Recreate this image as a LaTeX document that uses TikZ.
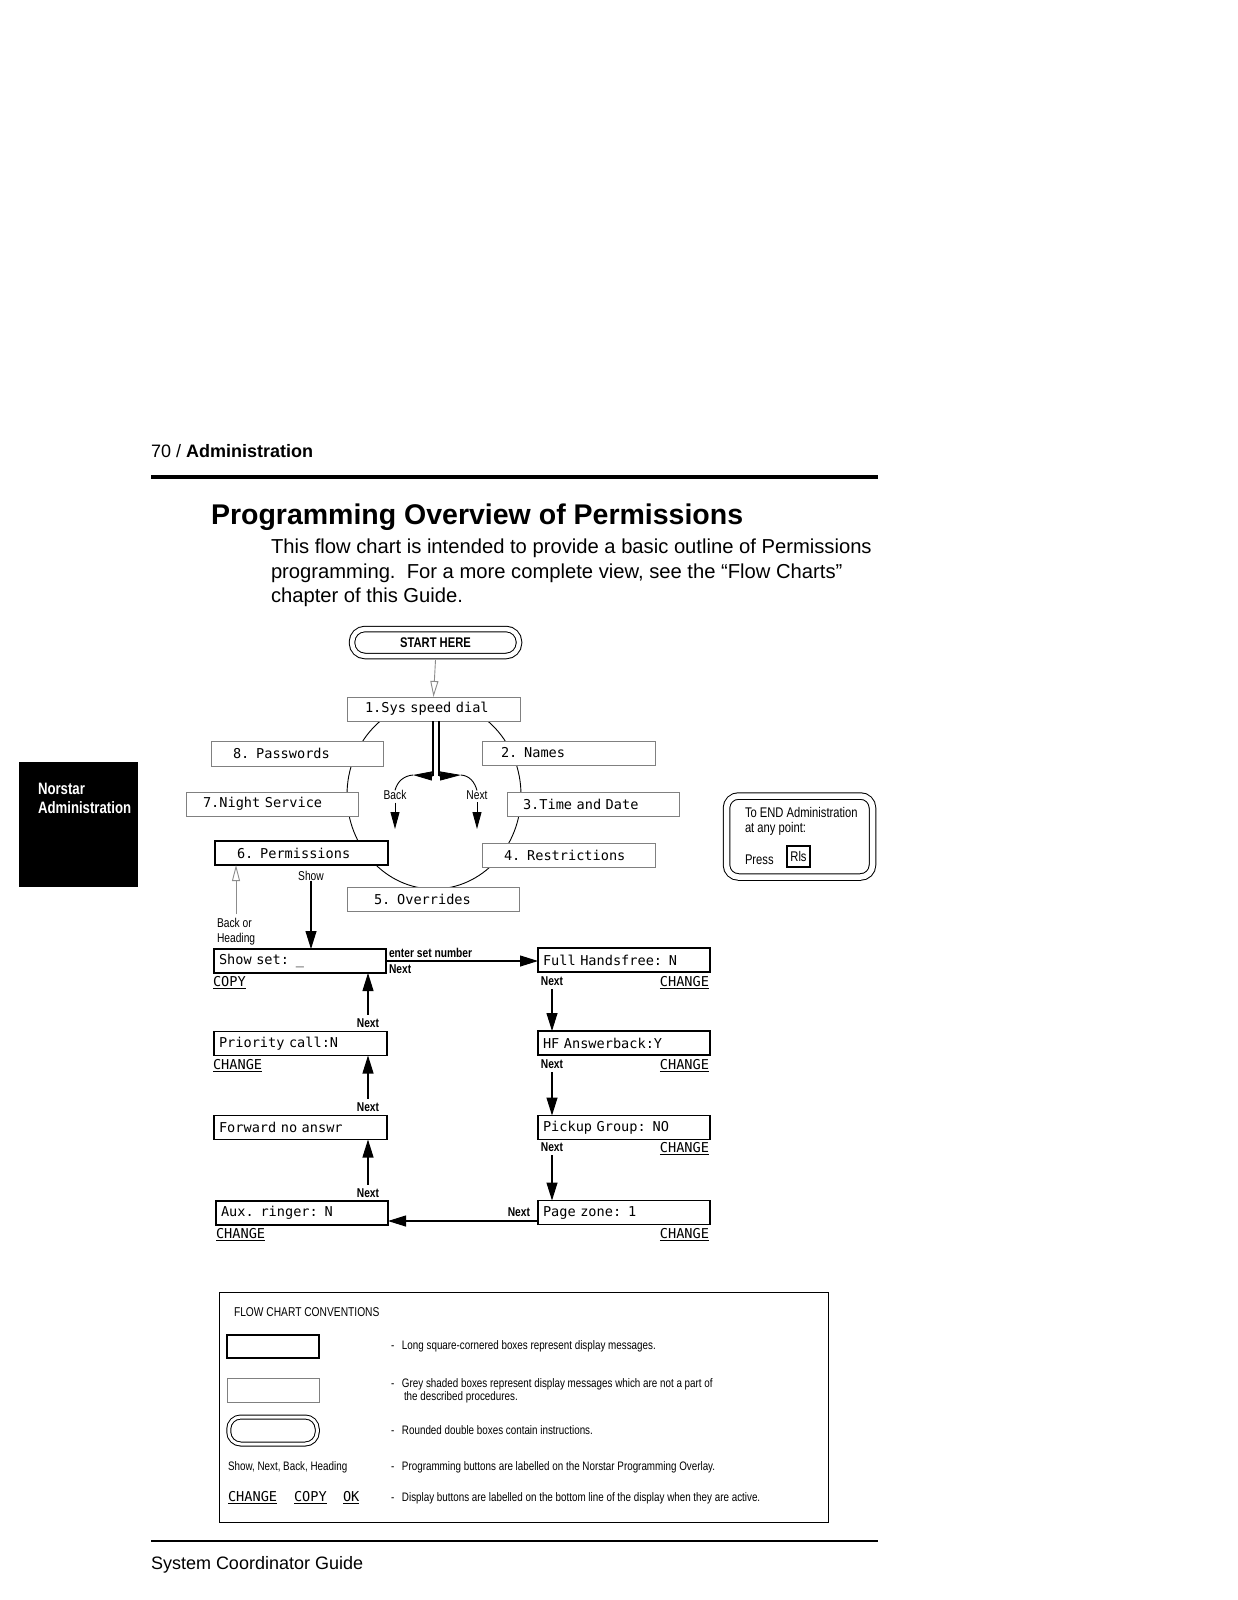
\documentclass[tikz,border=0pt]{standalone}
\usepackage{fontspec}
\setmainfont{Liberation Sans}
\newfontfamily\narrow[FakeStretch=0.8]{Liberation Sans}
\newfontfamily\lcd{DejaVu Sans Mono}
\usetikzlibrary{arrows.meta}
\begin{document}
\begin{tikzpicture}[x=1pt,y=-1pt,
  every node/.style={inner sep=0pt, outer sep=0pt},
  lcdf/.style={font=\fontsize{13.6}{15}\selectfont\lcd},
  disp/.style={draw, line width=1.1pt, fill=white, minimum width=172, minimum height=24, text width=164, align=left, inner xsep=4pt, lcdf},
  greybox/.style={disp, draw=black!50, line width=0.9pt},
  nxt/.style={font=\fontsize{12.8}{14}\selectfont\narrow\bfseries},
  lab/.style={font=\fontsize{12.8}{15}\selectfont\narrow},
  small/.style={font=\fontsize{12.3}{13}\selectfont\narrow},
  arr/.style={line width=1.1pt, -{Triangle[length=18pt,width=11pt]}},
  garr/.style={draw=black!45, line width=0.9pt, -{Triangle[open,length=16pt,width=8pt]}},
  dbl/.style={draw, double, double distance=4.5pt, line width=1pt, rounded corners=12pt},
]
\useasboundingbox (0,0) rectangle (1237,1600);
\fill[white] (0,0) rectangle (1237,1600);

% header
\node[anchor=base west, font=\fontsize{18}{20}\selectfont] (hdr) at (151,457.5) {70 / \textbf{Administration}};
\draw[line width=3.5pt] (151,477) -- (878,477);
\node[anchor=base west, font=\fontsize{28.5}{32}\selectfont\bfseries] (title) at (211,524) {Programming Overview of Permissions};
\node[anchor=base west, font=\fontsize{20.2}{24}\selectfont] (p1) at (271,553) {This flow chart is intended to provide a basic outline of Permissions};
\node[anchor=base west, font=\fontsize{20.2}{24}\selectfont] (p2) at (271,578) {programming.\ \ For a more complete view, see the “Flow Charts”};
\node[anchor=base west, font=\fontsize{20.2}{24}\selectfont] (p3) at (271,602) {chapter of this Guide.};

% side tab
\fill[black] (19,762) rectangle (138,887);
\node[anchor=base west, text=white, font=\fontsize{16.5}{18}\selectfont\narrow\bfseries] (tab1) at (38,794) {Norstar};
\node[anchor=base west, text=white, font=\fontsize{16.5}{18}\selectfont\narrow\bfseries] (tab2) at (38,813) {Administration};

% start
\node[dbl, rounded corners=13pt, minimum width=167, minimum height=27, font=\fontsize{14}{16}\selectfont\narrow\bfseries] (start) at (435.5,642.5) {START HERE};

% ring
\draw[line width=0.9pt] (434,795) ellipse [x radius=87, y radius=94];
\node[greybox, minimum width=173, text width=165] (b1) at (433.5,709) {\hspace*{14pt}1.Sys speed dial};
\node[greybox, minimum height=25] (b8) at (297,753.5) {\hspace*{18pt}8. Passwords};
\node[greybox, minimum width=173, text width=165] (b2) at (568.5,753) {\hspace*{15pt}2. Names};
\node[greybox] (b7) at (272,804) {\hspace*{13pt}7.Night Service};
\node[greybox] (b3) at (593,804) {\hspace*{12pt}3.Time and Date};
\node[disp, minimum width=173, text width=165, line width=1.5pt] (b6) at (301.5,853) {\hspace*{18pt}6. Permissions};
\node[greybox, minimum width=173, text width=165] (b4) at (568.5,855) {\hspace*{18pt}4. Restrictions};
\node[greybox] (b5) at (433,899) {\hspace*{23pt}5. Overrides};

\draw[garr] ([yshift=-4pt]start.south) -- (b1.north);

% stems and Back / Next
\coordinate (stemL) at (433,776);
\coordinate (stemR) at (439,776);
\coordinate (bk) at (413,775);
\coordinate (nx) at (461,775);
\draw[line width=1.1pt] (b1.south -| stemL) -- (stemL);
\draw[line width=1.1pt] (b1.south -| stemR) -- (stemR);
\draw[line width=0.8pt, -{Triangle[length=19pt,width=9pt]}] (stemL) -- (bk);
\draw[line width=0.8pt, -{Triangle[length=21pt,width=9pt]}] (stemR) -- (nx);
\node[lab] (back) at (395,795) {Back};
\node[lab] (next) at (477,795) {Next};
\draw[line width=0.9pt] (bk) to[out=185,in=75] (back.north);
\draw[line width=0.9pt] (nx) to[out=-5,in=105] (next.north);
\coordinate (bkend) at (395,829);
\coordinate (nxend) at (477,829);
\draw[line width=0.9pt, -{Triangle[length=17pt,width=9pt]}] ([yshift=-3pt]back.south) -- (bkend);
\draw[line width=0.9pt, -{Triangle[length=17pt,width=9pt]}] ([yshift=-3pt]next.south) -- (nxend);

% END box
\node[dbl, double distance=5.5pt, minimum width=146, minimum height=81] (endbox) at (799.5,836.5) {};
\node[anchor=north west, align=left, font=\fontsize{14}{15}\selectfont\narrow] (endtxt) at (745,807) {To END Administration\\at any point:};
\node[anchor=base west, font=\fontsize{14}{15}\selectfont\narrow] (press) at (745,864) {Press};
\node[draw, line width=1.1pt, minimum width=23, minimum height=21, font=\fontsize{14}{15}\selectfont\narrow] (rls) at (798.5,856.5) {Rls};

% Show / Back or Heading
\node[lab] (show) at (311,876) {Show};
\node[lab, align=left, anchor=north west] (bhlab) at (217,918) {Back or\\Heading};
\coordinate (bh) at (236,914);
\draw[garr] (bh) -- (bh |- b6.south);

% lower boxes
\node[disp, line width=1.3pt] (sset) at (300,961) {\hspace*{1pt}Show set: \_};
\node[disp, minimum width=173, text width=165] (prio) at (300.5,1043.5) {\hspace*{1pt}Priority call:N};
\node[disp, minimum width=173, text width=165] (fwd) at (300.5,1127.5) {\hspace*{1pt}Forward no answr};
\node[disp] (aux) at (302,1213) {\hspace*{1pt}Aux. ringer: N};
\node[disp] (fh) at (624,960) {\hspace*{1pt}Full Handsfree: N};
\node[disp] (hf) at (624,1043) {\hspace*{1pt}HF Answerback:Y};
\node[disp] (pick) at (624,1127.5) {\hspace*{1pt}Pickup Group: NO};
\node[disp] (pz) at (624,1212.5) {\hspace*{1pt}Page zone: 1};

\draw[arr] (show.south) -- (show.south |- sset.north);
\draw[arr] (sset.east) -- (fh.west |- sset.east);
\node[nxt, anchor=west] (esn) at (389,953) {enter set number};
\node[nxt, anchor=west] (n0) at (389,969) {Next};

% right column
\node[nxt] (n1) at (552,981) {Next};
\node[nxt] (n2) at (552,1064) {Next};
\node[nxt] (n3) at (552,1147) {Next};
\draw[arr] ([yshift=-4pt]n1.south) -- (n1.south |- hf.north);
\draw[arr] ([yshift=-4pt]n2.south) -- (n2.south |- pick.north);
\draw[arr] ([yshift=-4pt]n3.south) -- (n3.south |- pz.north);
\node[lcdf, anchor=east] (c1) at (709,983) {\underline{CHANGE}};
\node[lcdf, anchor=east] (c2) at (709,1066) {\underline{CHANGE}};
\node[lcdf, anchor=east] (c3) at (709,1149) {\underline{CHANGE}};
\node[lcdf, anchor=east] (c4) at (709,1235) {\underline{CHANGE}};

% bottom link
\node[nxt, anchor=east] (n4) at (530,1212) {Next};
\coordinate (pzl) at ([yshift=-8.5pt]pz.west);
\draw[arr] (pzl) -- (aux.east |- pzl);

% left column
\node[nxt] (n5) at (368,1193) {Next};
\node[nxt] (n6) at (368,1107) {Next};
\node[nxt] (n7) at (368,1023) {Next};
\draw[arr] ([yshift=4pt]n5.north) -- (n5.north |- fwd.south);
\draw[arr] ([yshift=4pt]n6.north) -- (n6.north |- prio.south);
\draw[arr] ([yshift=4pt]n7.north) -- (n7.north |- sset.south);
\node[lcdf, anchor=west] (cp) at (213,983) {\underline{COPY}};
\node[lcdf, anchor=west] (c5) at (213,1066) {\underline{CHANGE}};
\node[lcdf, anchor=west] (c6) at (216,1235) {\underline{CHANGE}};

% conventions
\draw[line width=0.9pt] (219,1292) rectangle (828,1522);
\node[lab, anchor=west] (fcc) at (234,1312) {FLOW CHART CONVENTIONS};
\node[draw, line width=1.1pt, minimum width=92, minimum height=23] (cv1) at (273,1346.5) {};
\node[draw=black!50, line width=0.9pt, minimum width=92, minimum height=24] (cv2) at (273,1390) {};
\node[dbl, double distance=3pt, line width=1pt, minimum width=88.5, minimum height=27] (cv3) at (273,1430.5) {};
\node[small, anchor=west] (cv4) at (228,1467) {Show, Next, Back, Heading};
\node[lcdf, anchor=west] (cv5a) at (228,1498) {\underline{CHANGE}};
\node[lcdf, anchor=west] (cv5b) at (294,1498) {\underline{COPY}};
\node[lcdf, anchor=west] (cv5c) at (343,1498) {\underline{OK}};
\node[small, anchor=west] (d1) at (391,1346) {\makebox[11pt][l]{-}Long square-cornered boxes represent display messages.};
\node[small, anchor=north west, align=left] (d2) at (391,1379) {\makebox[11pt][l]{-}Grey shaded boxes represent display messages which are not a part of\\\hspace*{13pt}the described procedures.};
\node[small, anchor=west] (d3) at (391,1430) {\makebox[11pt][l]{-}Rounded double boxes contain instructions.};
\node[small, anchor=west] (d4) at (391,1467) {\makebox[11pt][l]{-}Programming buttons are labelled on the Norstar Programming Overlay.};
\node[small, anchor=west] (d5) at (391,1498) {\makebox[11pt][l]{-}Display buttons are labelled on the bottom line of the display when they are active.};

% footer
\draw[line width=1.6pt] (151,1541) -- (878,1541);
\node[anchor=base west, font=\fontsize{18}{20}\selectfont] (ftr) at (151,1569) {System Coordinator Guide};
\end{tikzpicture}
\end{document}
